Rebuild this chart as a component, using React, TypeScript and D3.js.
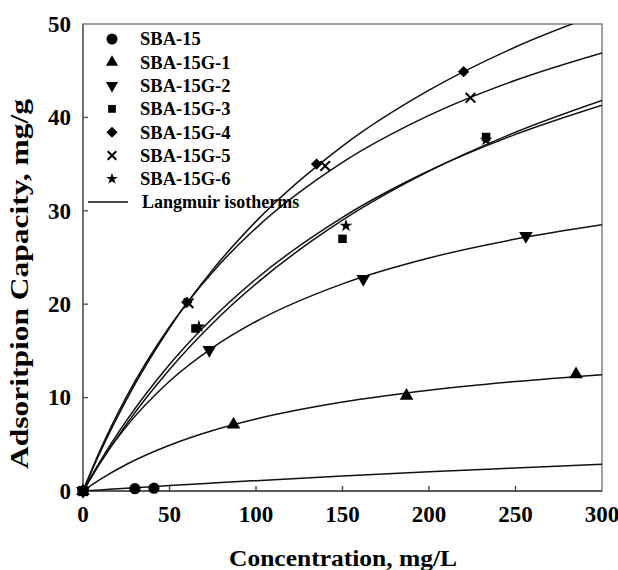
import * as d3 from 'd3';

// measured points (Ce mg/L, q mg/g)
const sba15C = [0, 30, 41];
const sba15Q = [0, 0.25, 0.3];
const g1C = [0, 87, 187, 285];
const g1Q = [0, 7.1, 10.2, 12.5];
const g2C = [0, 73, 162, 256];
const g2Q = [0, 15.1, 22.7, 27.3];
const g3C = [0, 65, 150, 233];
const g3Q = [0, 17.4, 27.0, 37.9];
const g4C = [0, 60, 135, 220];
const g4Q = [0, 20.2, 35.0, 44.9];
const g5C = [0, 61, 140, 224];
const g5Q = [0, 20.1, 34.8, 42.1];
const g6C = [0, 67, 152, 233];
const g6Q = [0, 17.6, 28.4, 37.6];

// Langmuir isotherm lines at these concentrations
const fitC = [0, 10, 25, 50, 75, 100, 150, 200, 250, 300];
const fitSba15 = [0, 0.12, 0.3, 0.58, 0.85, 1.11, 1.6, 2.05, 2.47, 2.86];
const fitG1 = [0, 1.25, 2.84, 4.9, 6.48, 7.71, 9.52, 10.79, 11.73, 12.46];
const fitG2 = [0, 3.08, 6.89, 11.75, 15.36, 18.15, 22.18, 24.95, 26.97, 28.5];
const fitG3 = [0, 3.02, 7.13, 13.02, 17.97, 22.18, 28.99, 34.24, 38.41, 41.81];
const fitG4 = [0, 4.19, 9.74, 17.45, 23.7, 28.87, 36.93, 42.91, 47.54, 51.21];
const fitG5 = [0, 4.4, 10.05, 17.59, 23.46, 28.15, 35.18, 40.21, 43.98, 46.91];
const fitG6 = [0, 3.21, 7.5, 13.55, 18.53, 22.7, 29.3, 34.29, 38.18, 41.31];

const names = ['SBA-15', 'SBA-15G-1', 'SBA-15G-2', 'SBA-15G-3', 'SBA-15G-4', 'SBA-15G-5', 'SBA-15G-6'];
const xTicks = [0, 50, 100, 150, 200, 250, 300];
const yTicks = [0, 10, 20, 30, 40, 50];

const W = 618;
const H = 570;
const FONT = '"Liberation Serif", "Times New Roman", serif';

const x = d3.scaleLinear().domain([0, 300]).range([83, 602]);
const y = d3.scaleLinear().domain([0, 50]).range([491, 24]);

type Sym = { type: d3.SymbolType; size: number; rotate?: number; stroke?: boolean };
const syms: Sym[] = [
  { type: d3.symbolCircle, size: 100 },
  { type: d3.symbolTriangle, size: 80 },
  { type: d3.symbolTriangle, size: 80, rotate: 180 },
  { type: d3.symbolSquare, size: 72 },
  { type: d3.symbolSquare, size: 64, rotate: 45 },
  { type: d3.symbolTimes, size: 62, stroke: true },
  { type: d3.symbolStar, size: 52 },
];
const legendSyms: Sym[] = [
  { type: d3.symbolCircle, size: 95 },
  { type: d3.symbolTriangle, size: 64 },
  { type: d3.symbolTriangle, size: 64, rotate: 180 },
  { type: d3.symbolSquare, size: 60 },
  { type: d3.symbolSquare, size: 62, rotate: 45 },
  { type: d3.symbolTimes, size: 50, stroke: true },
  { type: d3.symbolStar, size: 42 },
];

function Marker({ s, cx, cy }: { s: Sym; cx: number; cy: number }) {
  const d = d3.symbol().type(s.type).size(s.size)() || '';
  return (
    <path
      d={d}
      transform={`translate(${cx},${cy}) rotate(${s.rotate || 0})`}
      fill={s.stroke ? 'none' : '#000'}
      stroke={s.stroke ? '#000' : 'none'}
      strokeWidth={s.stroke ? 2 : 0}
    />
  );
}

export default function App() {
  const points = [
    [sba15C, sba15Q],
    [g1C, g1Q],
    [g2C, g2Q],
    [g3C, g3Q],
    [g4C, g4Q],
    [g5C, g5Q],
    [g6C, g6Q],
  ];
  const fits = [fitSba15, fitG1, fitG2, fitG3, fitG4, fitG5, fitG6];

  const line = d3
    .line<number>()
    .x((_, i) => x(fitC[i]))
    .y((d) => y(d))
    .curve(d3.curveMonotoneX);

  const order = [1, 2, 3, 4, 5, 6, 0];

  return (
    <svg width={W} height={H} style={{ position: 'absolute', left: 0, top: 0, background: '#fff' }} fontFamily={FONT}>
      <defs>
        <clipPath id="plot">
          <rect x={x(0)} y={y(50)} width={x(300) - x(0)} height={y(0) - y(50)} />
        </clipPath>
      </defs>

      {/* frame */}
      <rect x={x(0)} y={y(50)} width={x(300) - x(0)} height={y(0) - y(50)} fill="none" stroke="#888" strokeWidth={1.6} />
      <line x1={x(0)} x2={x(300)} y1={y(0)} y2={y(0)} stroke="#444" strokeWidth={1.6} />
      <line x1={x(0)} x2={x(0)} y1={y(0)} y2={y(50)} stroke="#666" strokeWidth={1.6} />

      {/* ticks */}
      {xTicks.map((t) => (
        <g key={'x' + t}>
          {t > 0 && t < 300 && <line x1={x(t)} x2={x(t)} y1={y(0)} y2={y(0) - 5} stroke="#444" strokeWidth={1.4} />}
          <text x={x(t)} y={522} textAnchor="middle" fontSize={23} fontWeight="bold">
            {t}
          </text>
        </g>
      ))}
      {yTicks.map((t) => (
        <g key={'y' + t}>
          {t > 0 && t < 50 && <line x1={x(0)} x2={x(0) + 5} y1={y(t)} y2={y(t)} stroke="#555" strokeWidth={1.4} />}
          <text x={71} y={y(t)} dy="0.34em" textAnchor="end" fontSize={23} fontWeight="bold">
            {t}
          </text>
        </g>
      ))}

      {/* isotherms */}
      <g clipPath="url(#plot)">
        {fits.map((f, i) => (
          <path key={'f' + i} d={line(f) || ''} fill="none" stroke="#111" strokeWidth={1.5} />
        ))}
      </g>

      {/* data points */}
      {order.map((i) =>
        points[i][0].map((c, j) => <Marker key={`p${i}-${j}`} s={syms[i]} cx={x(c)} cy={y(points[i][1][j])} />)
      )}

      {/* legend */}
      {names.map((n, i) => (
        <g key={'l' + i}>
          <Marker s={legendSyms[i]} cx={112} cy={39 + i * 23.3} />
          <text x={140} y={39 + i * 23.3} dy="0.35em" fontSize={18.5} fontWeight="bold">
            {n}
          </text>
        </g>
      ))}
      <line x1={88} x2={128} y1={39 + 7 * 23.3} y2={39 + 7 * 23.3} stroke="#111" strokeWidth={1.5} />
      <text x={142} y={39 + 7 * 23.3} dy="0.35em" fontSize={18} fontWeight="bold">
        Langmuir isotherms
      </text>

      {/* axis titles */}
      <text x={343} y={566} textAnchor="middle" fontSize={24} fontWeight="bold" textLength={228} lengthAdjust="spacingAndGlyphs">
        Concentration, mg/L
      </text>
      <text
        transform={`translate(28,${284}) rotate(-90)`}
        textAnchor="middle"
        fontSize={25}
        fontWeight="bold"
        textLength={370}
        lengthAdjust="spacingAndGlyphs"
      >
        Adsoritpion Capacity, mg/g
      </text>
    </svg>
  );
}
